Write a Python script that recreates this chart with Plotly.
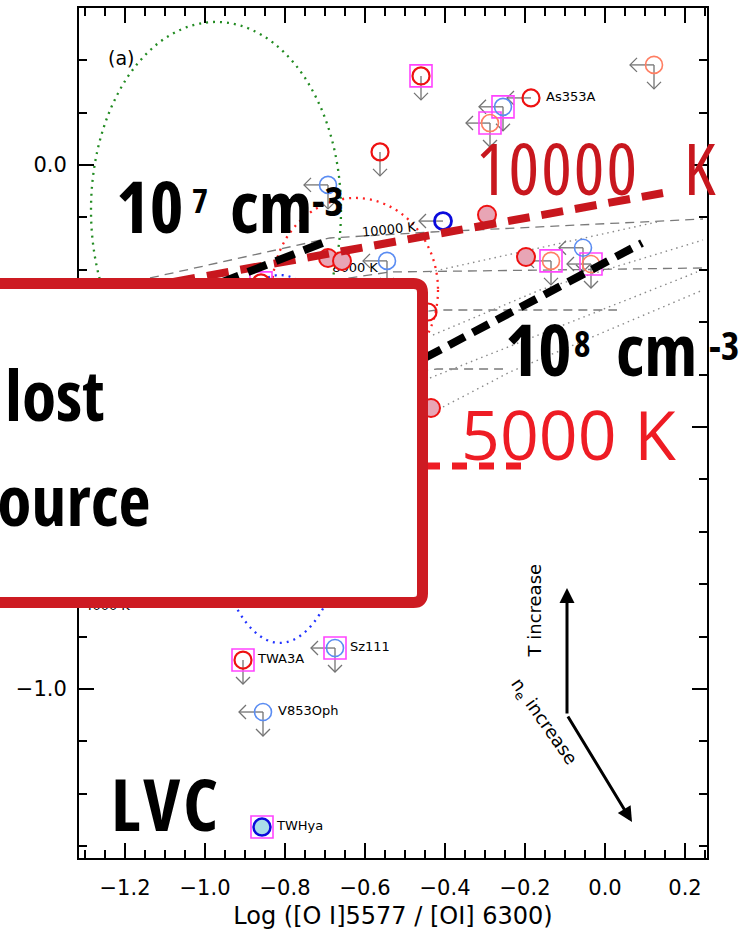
import plotly.graph_objects as go

# ---------------- axes / canvas ----------------
X_RANGE = [-1.315, 0.255]
Y_RANGE = [-1.3225, 0.2996]
W, H = 742, 930
ML, MR, MT, MB = 79, 35, 8, 72
PW, PH = W - ML - MR, H - MT - MB
KX = PW / (X_RANGE[1] - X_RANGE[0])   # px per x unit
KY = PH / (Y_RANGE[1] - Y_RANGE[0])   # px per y unit

# ---------------- sources ----------------
src_name = ["", "As353A", "", "", "", "", "", "", "", "", "", "", "", "", "", "",
            "", "", "", "Sz111", "TWA3A", "V853Oph", "TWHya"]
src_x = [-0.46, -0.185, -0.255, -0.2875, 0.1225, -0.5625, -0.6925, -0.405, -0.295,
         -0.6925, -0.6575, -0.545, -0.1975, -0.135, -0.055, -0.035, -0.86, -0.4425,
         -0.435, -0.675, -0.905, -0.855, -0.8575]
src_y = [0.170, 0.128, 0.111, 0.080, 0.191, 0.025, -0.038, -0.107, -0.095,
         -0.1775, -0.183, -0.183, -0.1756, -0.183, -0.158, -0.189, -0.225, -0.2805,
         -0.4637, -0.9218, -0.9447, -1.0439, -1.2634]
src_type = ["red", "red", "blue", "salmon", "salmon", "red", "blue", "dblue", "pink",
            "pink", "pink", "blue", "pink", "salmon", "blue", "salmon", "red", "red",
            "pink", "blue", "red", "blue", "twhya"]
src_box = [1, 0, 1, 1, 0, 0, 0, 0, 0, 0, 0, 0, 0, 1, 0, 1, 1, 0, 0, 1, 1, 0, 1]
lim_left = [0, 1, 1, 1, 1, 0, 1, 1, 0, 0, 0, 1, 0, 1, 1, 1, 0, 0, 0, 1, 0, 1, 0]
lim_down = [1, 0, 1, 1, 1, 1, 1, 0, 0, 0, 0, 1, 0, 1, 1, 1, 0, 0, 0, 1, 1, 1, 0]

# ---------------- model grid ----------------
grid_T_labels = ["8000 K", "4000 K"]
grid_T_label_x = [-0.625, -1.245]
grid_T_label_y = [-0.1985, -0.8435]
T_lines_x = [[-1.1375, -0.6875, -0.4325, 0.245],
             [-1.0125, -0.5375, 0.245],
             [-0.8875, -0.42, 0.03],
             [-0.7625, -0.42, -0.255]]
T_lines_y = [[-0.2156, -0.1393, -0.1279, -0.1031],
             [-0.2576, -0.2042, -0.1966],
             [-0.3244, -0.2767, -0.2767],
             [-0.4198, -0.3893, -0.3893]]
ne_lines_x = [[-0.4375, 0.13],
              [-0.43, -0.1625, 0.245],
              [-0.4375, 0.23],
              [-0.405, -0.2375, 0.245]]
ne_lines_y = [[-0.2042, -0.1088],
              [-0.3244, -0.2385, -0.1431],
              [-0.4065, -0.2042],
              [-0.4618, -0.395, -0.2385]]

# ---------------- region ellipses (center x, center y, semi x, semi y) ----------------
ell_green = [-0.9725, -0.086, 0.3125, 0.359]
ell_red = [-0.625, -0.2385, 0.2075, 0.1756]
ell_blue = [-0.8125, -0.561, 0.185, 0.351]

# ---------------- highlighted lines ----------------
hl_10000K_x, hl_10000K_y = [-1.1625, 0.145], [-0.2347, -0.0534]
hl_1e7_x, hl_1e7_y = [-0.9625, -0.6875], [-0.2252, -0.1431]
hl_1e8_x, hl_1e8_y = [-0.45, 0.0925], [-0.368, -0.1489]
hl_5000K_x, hl_5000K_y = [-0.45, -0.18], [-0.5744, -0.5744]

STYLE = {
    "red": dict(symbol="circle-open", size=17, color="#EE1111", line=dict(width=2.2, color="#EE1111")),
    "salmon": dict(symbol="circle-open", size=17, color="#FF7E62", line=dict(width=1.6, color="#FF7E62")),
    "blue": dict(symbol="circle-open", size=17, color="#5A8CF2", line=dict(width=1.6, color="#5A8CF2")),
    "dblue": dict(symbol="circle-open", size=17, color="#0A0ADC", line=dict(width=2.8, color="#0A0ADC")),
    "pink": dict(symbol="circle", size=18, color="#E8A5B5", line=dict(width=2, color="#EE1111")),
    "twhya": dict(symbol="circle", size=17, color="#A9DCE8", line=dict(width=2.5, color="#0A0ADC")),
}

fig = go.Figure()


def add_line(xs, ys, color, width, dash):
    fig.add_trace(go.Scatter(x=xs, y=ys, mode="lines", hoverinfo="skip",
                             line=dict(color=color, width=width, dash=dash)))


# grid
for xs, ys in zip(T_lines_x, T_lines_y):
    add_line(xs, ys, "#7a7a7a", 1.3, "9px,6px")
for xs, ys in zip(ne_lines_x, ne_lines_y):
    add_line(xs, ys, "#8a8a8a", 1.4, "1.5px,4px")
fig.add_trace(go.Scatter(x=grid_T_label_x, y=grid_T_label_y, mode="text", text=grid_T_labels,
                         textposition="middle center", hoverinfo="skip",
                         textfont=dict(family="DejaVu Sans", size=13, color="black")))

# upper-limit arrows
AL, AH = 24, 7
ax_, ay_ = [], []
for x, y, l, d in zip(src_x, src_y, lim_left, lim_down):
    if l:
        tx = x - AL / KX
        ax_ += [x, tx, None, tx + AH / KX, tx, tx + AH / KX, None]
        ay_ += [y, y, None, y + AH / KY, y, y - AH / KY, None]
    if d:
        ty = y - AL / KY
        ax_ += [x, x, None, x - AH / KX, x, x + AH / KX, None]
        ay_ += [y, ty, None, ty + AH / KY, ty, ty + AH / KY, None]
fig.add_trace(go.Scatter(x=ax_, y=ay_, mode="lines", hoverinfo="skip",
                         line=dict(color="#737373", width=1.3)))

# boxes
bx = [x for x, b in zip(src_x, src_box) if b]
by = [y for y, b in zip(src_y, src_box) if b]
fig.add_trace(go.Scatter(x=bx, y=by, mode="markers", hoverinfo="skip",
                         marker=dict(symbol="square-open", size=22, color="#FF44FF",
                                     line=dict(width=1.6, color="#FF44FF"))))
# circles
for t, st in STYLE.items():
    xs = [x for x, k in zip(src_x, src_type) if k == t]
    ys = [y for y, k in zip(src_y, src_type) if k == t]
    fig.add_trace(go.Scatter(x=xs, y=ys, mode="markers", hoverinfo="skip", marker=st))

# names
lab = [(x + 15 / KX, y, n) for x, y, n in zip(src_x, src_y, src_name) if n]
fig.add_trace(go.Scatter(x=[a[0] for a in lab], y=[a[1] for a in lab], text=[a[2] for a in lab],
                         mode="text", textposition="middle right", hoverinfo="skip",
                         textfont=dict(family="DejaVu Sans", size=13, color="black")))

# highlighted lines
add_line(hl_10000K_x, hl_10000K_y, "#C8171E", 8, "22px,12px")
add_line(hl_1e7_x, hl_1e7_y, "black", 8, "20px,10px")
add_line(hl_1e8_x, hl_1e8_y, "black", 8, "18px,9px")
add_line(hl_5000K_x, hl_5000K_y, "#EE1C24", 7, "15px,12px")

# ellipses
shapes = []
for (cx, cy, a, b), col in [(ell_green, "#228B22"), (ell_red, "#FF2222"), (ell_blue, "#2233FF")]:
    shapes.append(dict(type="circle", xref="x", yref="y", x0=cx - a, x1=cx + a, y0=cy - b, y1=cy + b,
                       line=dict(color=col, width=2.3, dash="2px,5px"), layer="below"))


def P(px, py):
    return (px - ML) / PW, (H - MB - py) / PH


# overlay box
xl, yt = P(-40, 283.5)
xr, yb = P(422.5, 602.5)
rx, ry = 9 / PW, 9 / PH
path = (f"M {xl},{yt} L {xr - rx},{yt} Q {xr},{yt} {xr},{yt - ry} L {xr},{yb + ry} "
        f"Q {xr},{yb} {xr - rx},{yb} L {xl},{yb} Z")
shapes.append(dict(type="path", xref="paper", yref="paper", path=path, fillcolor="white",
                   line=dict(color="#CD1B22", width=11), layer="above"))

OS = "Open Sans, sans-serif"
ann = []


def big(text, px, baseline, size, color, stretch, bold, anchor="left", spacing=0):
    x, y = P(px, baseline + 0.293 * size)
    t = f"<span style='font-stretch:{stretch};letter-spacing:{spacing}px'>{text}</span>"
    if bold:
        t = f"<b>{t}</b>"
    ann.append(dict(text=t, x=x, y=y, xref="paper", yref="paper", xanchor=anchor, yanchor="bottom",
                    showarrow=False, font=dict(family=OS, size=size, color=color)))


def sup(text, px, captop, size, stretch="condensed"):
    x, y = P(px, captop - 0.355 * size)
    ann.append(dict(text=f"<b><span style='font-stretch:{stretch}'>{text}</span></b>", x=x, y=y,
                    xref="paper", yref="paper", xanchor="left", yanchor="top", showarrow=False,
                    font=dict(family=OS, size=size, color="black")))


# 10^7 cm^-3
big("10", 114, 235, 72, "black", "condensed", True)
sup("7", 190, 187, 34)
big("cm", 228, 235, 72, "black", "condensed", True)
sup("-3", 310, 185, 41)
# 10^8 cm^-3
big("10", 503, 378, 71, "black", "condensed", True)
sup("8", 572, 330, 35)
big("cm", 614, 378, 71, "black", "condensed", True)
sup("-3", 707, 330, 39)

big("10000\u00a0\u00a0\u2009K", 474, 197, 72, "#C8171E", "semi-condensed", False, spacing=2)
big("5000 K", 459, 462, 68, "#EE1C24", "normal", False)
big("LVC", 109, 833, 72, "black", "condensed", True, spacing=3)
big("lost", 106, 423, 70, "black", "condensed", True, "right")
big("source", 153, 528, 70, "black", "condensed", True, "right")

x, y = P(106, 45)
ann.append(dict(text="(a)", x=x, y=y, xref="paper", yref="paper", showarrow=False,
                font=dict(family="DejaVu Sans", size=19, color="black")))
ann.append(dict(text="10000 K", x=-0.54, y=-0.124, xref="x", yref="y", showarrow=False, textangle=-6,
                font=dict(family="DejaVu Sans", size=13, color="black")))

# T / ne direction arrows
arrow_tail = (-0.095, -1.0496)
ann.append(dict(x=-0.095, y=-0.8073, ax=arrow_tail[0], ay=arrow_tail[1], axref="x", ayref="y",
                xref="x", yref="y", showarrow=True, arrowhead=2, arrowsize=1, arrowwidth=3,
                arrowcolor="black", text=""))
ann.append(dict(x=0.0675, y=-1.2538, ax=arrow_tail[0], ay=arrow_tail[1], axref="x", ayref="y",
                xref="x", yref="y", showarrow=True, arrowhead=2, arrowsize=1, arrowwidth=3,
                arrowcolor="black", text=""))
x, y = P(546, 660)
ann.append(dict(text="T increase", x=x, y=y, xref="paper", yref="paper", showarrow=False, textangle=-90,
                font=dict(family="DejaVu Sans", size=18, color="black")))
x, y = P(585, 773)
ann.append(dict(text="n<sub>e</sub> increase", x=x, y=y, xref="paper", yref="paper", showarrow=False,
                textangle=55, font=dict(family="DejaVu Sans", size=18, color="black")))

axis_common = dict(showline=True, linecolor="black", linewidth=2, mirror="allticks", ticks="inside",
                   tickwidth=2, ticklen=15, tickcolor="black", showgrid=False, zeroline=False,
                   tickfont=dict(family="DejaVu Sans", size=21, color="black"), tickformat=".1f")
fig.update_layout(
    width=W, height=H, margin=dict(l=ML, r=MR, t=MT, b=MB, autoexpand=False),
    paper_bgcolor="white", plot_bgcolor="white", showlegend=False,
    shapes=shapes, annotations=ann,
    xaxis=dict(range=X_RANGE, tick0=0, dtick=0.2, automargin=False,
               minor=dict(ticks="inside", dtick=0.05, ticklen=8, tickwidth=1.5, tickcolor="black"),
               title=dict(text="Log ([O I]5577 / [OI] 6300)", standoff=8,
                          font=dict(family="DejaVu Sans", size=24, color="black")),
               ticklabelstandoff=10, **axis_common),
    yaxis=dict(range=Y_RANGE, tick0=0, dtick=0.5, automargin=False,
               minor=dict(ticks="inside", dtick=0.1, ticklen=8, tickwidth=1.5, tickcolor="black"),
               ticklabelstandoff=6, **axis_common),
)

fig.write_html("out.html", config={"displayModeBar": False},
               post_script="document.body.style.margin='0px';document.body.style.overflow='hidden';")
